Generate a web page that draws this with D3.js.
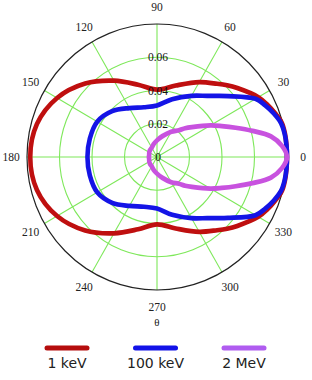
<!DOCTYPE html>
<html>
<head>
<meta charset="utf-8">
<script src="https://cdn.jsdelivr.net/npm/d3@7"></script>
<style>
  body { margin:0; background:#fff; }
  svg { display:block; }
</style>
</head>
<body>
<div id="chart" style="width:312px;height:380px"></div>
<script>
// angles (deg) of the upper half; plot is symmetric about the 0-180 axis
var angles = [0, 5, 10, 15, 20, 25, 30, 40, 45, 50, 60, 75, 90, 105, 120, 135, 150, 165, 180];
var kev1   = [0.080, 0.080, 0.080, 0.0795, 0.0772, 0.0748, 0.072, 0.0645, 0.061, 0.0575, 0.052, 0.0445, 0.0405, 0.045, 0.053, 0.0625, 0.071, 0.0765, 0.078];
var kev100 = [0.080, 0.080, 0.0798, 0.079, 0.0765, 0.0735, 0.070, 0.057, 0.052, 0.048, 0.0425, 0.036, 0.031, 0.031, 0.034, 0.039, 0.0425, 0.0428, 0.0428];
var mev2   = [0.080, 0.0772, 0.0712, 0.0608, 0.0515, 0.044, 0.038, 0.028, 0.0245, 0.021, 0.0175, 0.013, 0.010, 0.008, 0.0065, 0.006, 0.0055, 0.005, 0.005];
var seriesNames = ["1 keV", "100 keV", "2 MeV"];
var radialTicks = [0.02, 0.04, 0.06];
var radialLabels = ["0", "0.02", "0.04", "0.06"];
var angleTicks = [0, 30, 60, 90, 120, 150, 180, 210, 240, 270, 300, 330];
var rMax = 0.08;

var colors = ["#bf0f0f", "#1414e6", "#c852df"];
var legendColors = ["#b50d0d", "#1212e8", "#b05cf0"];

var width = 312, height = 380;
var cx = 157, cy = 157;
var R = 130, stretchY = 1.023;

var svg = d3.select("#chart").append("svg").attr("width", width).attr("height", height);

var r = d3.scaleLinear().domain([0, rMax]).range([0, R]);
var rad = function(deg){ return deg * Math.PI / 180; };

var plot = svg.append("g")
  .attr("transform", "translate(" + cx + "," + cy + ") scale(1," + stretchY + ")");

// grid circles
plot.selectAll("circle.grid").data(radialTicks).enter().append("circle")
  .attr("class", "grid")
  .attr("r", function(d){ return r(d); })
  .attr("fill", "none").attr("stroke", "#7ee85a").attr("stroke-width", 1.1);

// spokes
plot.selectAll("line.spoke").data(angleTicks).enter().append("line")
  .attr("class", "spoke")
  .attr("x1", 0).attr("y1", 0)
  .attr("x2", function(d){ return r(rMax) * Math.cos(rad(d)); })
  .attr("y2", function(d){ return -r(rMax) * Math.sin(rad(d)); })
  .attr("stroke", "#7ee85a").attr("stroke-width", 1.1);

// outer circle
plot.append("circle").attr("r", r(rMax))
  .attr("fill", "none").attr("stroke", "#222").attr("stroke-width", 1.2);

// full-circle points, mirrored from the upper half
function fullCurve(vals){
  var pts = angles.map(function(a, i){ return [a, vals[i]]; });
  for (var i = angles.length - 2; i > 0; i--) pts.push([360 - angles[i], vals[i]]);
  return pts;
}

var line = d3.lineRadial()
  .angle(function(d){ return rad(90 - d[0]); })
  .radius(function(d){ return r(d[1]); })
  .curve(d3.curveCatmullRomClosed.alpha(0.5));

[kev1, kev100, mev2].forEach(function(s, i){
  plot.append("path")
    .attr("d", line(fullCurve(s)))
    .attr("fill", "none")
    .attr("stroke", colors[i])
    .attr("stroke-width", 4.6)
    .attr("stroke-linejoin", "round");
});

// radial labels along the 90 spoke
var rl = [0].concat(radialTicks);
svg.selectAll("text.rlab").data(rl).enter().append("text")
  .attr("class", "rlab")
  .attr("x", cx + 1)
  .attr("y", function(d){ return cy - r(d) * stretchY + 4; })
  .attr("text-anchor", "middle")
  .attr("font-family", "Liberation Serif, serif")
  .attr("font-size", 11.5)
  .attr("fill", "#111")
  .text(function(d, i){ return radialLabels[i]; });

// angle labels
var lrx = 146, lry = 150;
svg.selectAll("text.alab").data(angleTicks).enter().append("text")
  .attr("class", "alab")
  .attr("x", function(d){ return cx + lrx * Math.cos(rad(d)); })
  .attr("y", function(d){ return cy - lry * Math.sin(rad(d)) + 4; })
  .attr("text-anchor", "middle")
  .attr("font-family", "Liberation Serif, serif")
  .attr("font-size", 11.5)
  .attr("fill", "#222")
  .text(function(d){ return d; });

svg.append("text")
  .attr("x", cx).attr("y", 326)
  .attr("text-anchor", "middle")
  .attr("font-family", "Liberation Serif, serif")
  .attr("font-size", 11)
  .attr("fill", "#222")
  .text("θ");

// legend
var legX = d3.scalePoint().domain(seriesNames).range([67, 244]);
var leg = svg.selectAll("g.leg").data(seriesNames).enter().append("g")
  .attr("class", "leg")
  .attr("transform", function(d){ return "translate(" + legX(d) + ",0)"; });
leg.append("line")
  .attr("x1", -20).attr("x2", 20).attr("y1", 348).attr("y2", 348)
  .attr("stroke", function(d, i){ return legendColors[i]; })
  .attr("stroke-width", 5).attr("stroke-linecap", "round");
leg.append("text")
  .attr("y", 368)
  .attr("text-anchor", "middle")
  .attr("font-family", "DejaVu Sans, sans-serif")
  .attr("font-size", 14)
  .attr("fill", "#222")
  .text(function(d){ return d; });
</script>
</body>
</html>
